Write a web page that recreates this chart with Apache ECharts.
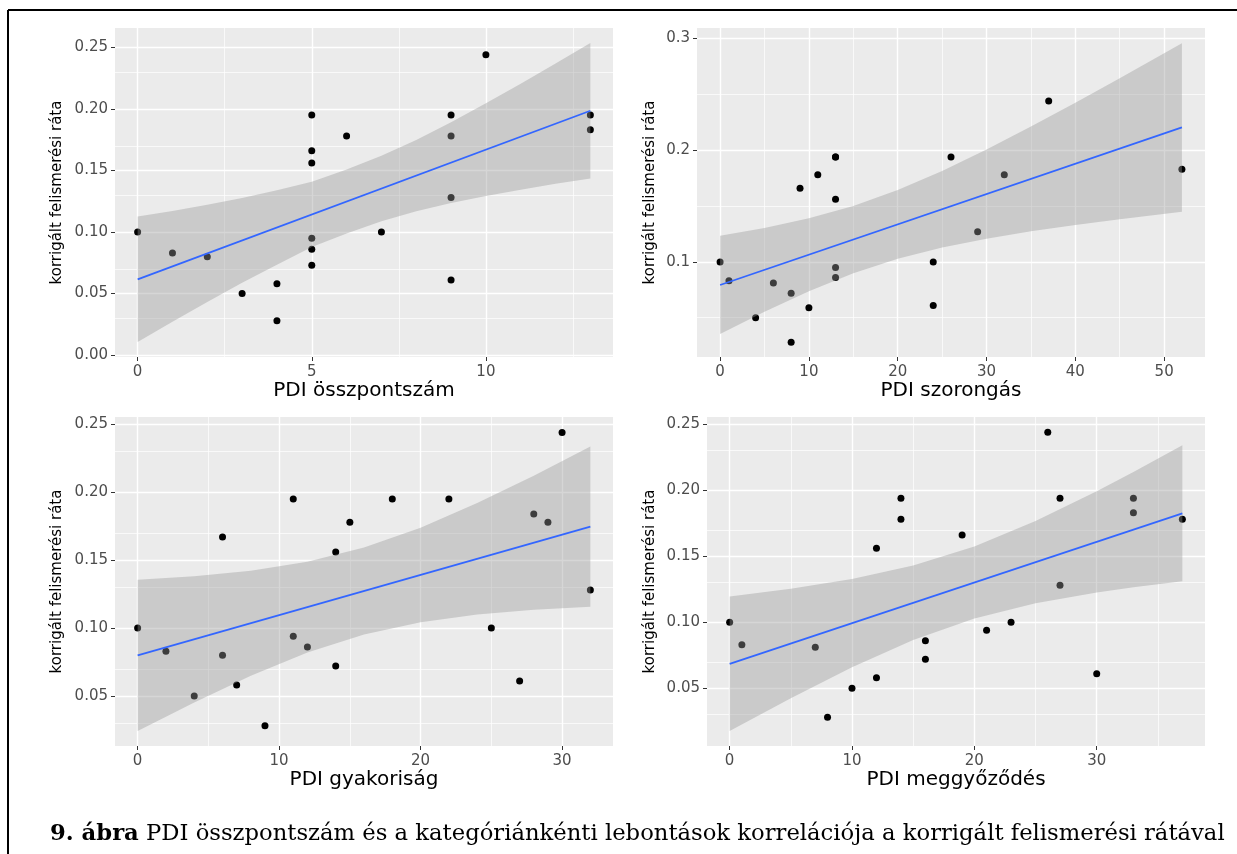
<!DOCTYPE html>
<html>
<head>
<meta charset="utf-8">
<script src="https://cdn.jsdelivr.net/npm/echarts@6/dist/echarts.min.js"></script>
<style>
html, body { margin: 0; padding: 0; background: #fff; }
#main { width: 1237px; height: 854px; }
</style>
</head>
<body>
<div id="main"></div>
<script>
// axis titles
var xTitles = ['PDI összpontszám', 'PDI szorongás', 'PDI gyakoriság', 'PDI meggyőződés'];
var yTitle = 'korrigált felismerési ráta';
var caption = 'PDI összpontszám és a kategóriánkénti lebontások korrelációja a korrigált felismerési rátával';

// panel 1: összpontszám
var p1X = [0, 1, 2, 3, 4, 4, 5, 5, 5, 5, 5, 5, 6, 7, 9, 9, 9, 9, 10, 13, 13];
var p1Y = [0.100, 0.083, 0.080, 0.050, 0.058, 0.028, 0.195, 0.166, 0.156, 0.095, 0.086, 0.073, 0.178, 0.100, 0.195, 0.178, 0.128, 0.061, 0.244, 0.195, 0.183];
var p1LineX = [0, 13];
var p1LineY = [0.0616, 0.1985];
var p1BandX = [0, 1, 2, 3, 4, 5, 6, 7, 8, 9, 10, 11, 12, 13];
var p1BandLo = [0.0106, 0.0271, 0.0432, 0.0588, 0.0735, 0.0878, 0.0988, 0.1087, 0.1168, 0.1236, 0.1293, 0.1344, 0.1392, 0.1435];
var p1BandHi = [0.1126, 0.1171, 0.1222, 0.1276, 0.1339, 0.1408, 0.1508, 0.1619, 0.1748, 0.1892, 0.2045, 0.2204, 0.2368, 0.2535];

// panel 2: szorongás
var p2X = [0, 1, 4, 6, 8, 8, 9, 10, 11, 13, 13, 13, 13, 13, 24, 24, 26, 29, 32, 37, 52];
var p2Y = [0.100, 0.083, 0.050, 0.081, 0.072, 0.028, 0.166, 0.059, 0.178, 0.194, 0.194, 0.156, 0.095, 0.086, 0.100, 0.061, 0.194, 0.127, 0.178, 0.244, 0.183];
var p2LineX = [0, 52];
var p2LineY = [0.0793, 0.2204];
var p2BandX = [0, 5, 10, 15, 20, 25, 30, 35, 40, 45, 52];
var p2BandLo = [0.0353, 0.0554, 0.0738, 0.0899, 0.1028, 0.1128, 0.1208, 0.1274, 0.1330, 0.1382, 0.1449];
var p2BandHi = [0.1233, 0.1304, 0.1390, 0.1501, 0.1644, 0.1814, 0.2006, 0.2212, 0.2426, 0.2646, 0.2959];

// panel 3: gyakoriság
var p3X = [0, 2, 4, 6, 6, 7, 9, 11, 11, 12, 14, 14, 15, 18, 22, 25, 27, 28, 29, 30, 32];
var p3Y = [0.100, 0.083, 0.050, 0.167, 0.080, 0.058, 0.028, 0.195, 0.094, 0.086, 0.156, 0.072, 0.178, 0.195, 0.195, 0.100, 0.061, 0.184, 0.178, 0.244, 0.128];
var p3LineX = [0, 32];
var p3LineY = [0.0798, 0.1747];
var p3BandX = [0, 4, 8, 12, 16, 20, 24, 28, 32];
var p3BandLo = [0.0241, 0.0452, 0.0648, 0.0820, 0.0953, 0.1043, 0.1099, 0.1134, 0.1157];
var p3BandHi = [0.1355, 0.1382, 0.1422, 0.1488, 0.1593, 0.1739, 0.1921, 0.2122, 0.2337];

// panel 4: meggyőződés
var p4X = [0, 1, 7, 8, 10, 12, 12, 14, 14, 16, 16, 19, 21, 23, 26, 27, 27, 30, 33, 33, 37];
var p4Y = [0.100, 0.083, 0.081, 0.028, 0.050, 0.156, 0.058, 0.194, 0.178, 0.086, 0.072, 0.166, 0.094, 0.100, 0.244, 0.194, 0.128, 0.061, 0.194, 0.183, 0.178];
var p4LineX = [0, 37];
var p4LineY = [0.0685, 0.1825];
var p4BandX = [0, 5, 10, 15, 20, 25, 30, 33, 37];
var p4BandLo = [0.0175, 0.0424, 0.0658, 0.0865, 0.1028, 0.1143, 0.1225, 0.1265, 0.1310];
var p4BandHi = [0.1195, 0.1254, 0.1328, 0.1429, 0.1574, 0.1767, 0.1993, 0.2139, 0.2340];

// ticks (major = labelled, minor = grid only)
var p1XMajor = [0, 5, 10], p1XMinor = [2.5, 7.5, 12.5];
var p2XMajor = [0, 10, 20, 30, 40, 50], p2XMinor = [5, 15, 25, 35, 45];
var p3XMajor = [0, 10, 20, 30], p3XMinor = [5, 15, 25];
var p4XMajor = [0, 10, 20, 30], p4XMinor = [5, 15, 25, 35];
var p1YMajor = [0, 0.05, 0.1, 0.15, 0.2, 0.25], p1YMinor = [0.025, 0.075, 0.125, 0.175, 0.225];
var p2YMajor = [0.1, 0.2, 0.3], p2YMinor = [0.05, 0.15, 0.25];
var p3YMajor = [0.05, 0.1, 0.15, 0.2, 0.25], p3YMinor = [0.025, 0.075, 0.125, 0.175, 0.225];
var p4YMajor = [0.05, 0.1, 0.15, 0.2, 0.25], p4YMinor = [0.025, 0.075, 0.125, 0.175, 0.225];

var panels = [
    {x: p1X, y: p1Y, lx: p1LineX, ly: p1LineY, bx: p1BandX, lo: p1BandLo, hi: p1BandHi,
     xr: [-0.65, 13.65], yr: [-0.0015, 0.2657], xMaj: p1XMajor, xMin: p1XMinor, yMaj: p1YMajor, yMin: p1YMinor, dec: 2,
     grid: {left: 115, top: 28, width: 498, height: 329}, yGap: 50},
    {x: p2X, y: p2Y, lx: p2LineX, ly: p2LineY, bx: p2BandX, lo: p2BandLo, hi: p2BandHi,
     xr: [-2.6, 54.6], yr: [0.0148, 0.3095], xMaj: p2XMajor, xMin: p2XMinor, yMaj: p2YMajor, yMin: p2YMinor, dec: 1,
     grid: {left: 697, top: 28, width: 508, height: 329}, yGap: 39},
    {x: p3X, y: p3Y, lx: p3LineX, ly: p3LineY, bx: p3BandX, lo: p3BandLo, hi: p3BandHi,
     xr: [-1.6, 33.6], yr: [0.0131, 0.2555], xMaj: p3XMajor, xMin: p3XMinor, yMaj: p3YMajor, yMin: p3YMinor, dec: 2,
     grid: {left: 115, top: 417, width: 498, height: 329}, yGap: 50},
    {x: p4X, y: p4Y, lx: p4LineX, ly: p4LineY, bx: p4BandX, lo: p4BandLo, hi: p4BandHi,
     xr: [-1.85, 38.85], yr: [0.0062, 0.2555], xMaj: p4XMajor, xMin: p4XMinor, yMaj: p4YMajor, yMin: p4YMinor, dec: 2,
     grid: {left: 707, top: 417, width: 498, height: 329}, yGap: 49}
];

var FONT = 'DejaVu Sans';
var grids = [], xAxes = [], yAxes = [], series = [];

function pairs(a, b) {
    return a.map(function (v, i) { return [v, b[i]]; });
}

panels.forEach(function (p, i) {
    grids.push({
        left: p.grid.left, top: p.grid.top, width: p.grid.width, height: p.grid.height,
        show: true, backgroundColor: '#EBEBEB', borderWidth: 0
    });
    xAxes.push({
        gridIndex: i, type: 'value', min: p.xr[0], max: p.xr[1],
        name: xTitles[i], nameLocation: 'middle', nameGap: 23,
        nameTextStyle: {fontFamily: FONT, fontSize: 20, color: '#000'},
        axisLine: {show: false, onZero: false},
        axisTick: {show: true, length: 4, lineStyle: {color: '#333'}, customValues: p.xMaj},
        axisLabel: {customValues: p.xMaj, margin: 8, color: '#4D4D4D', fontFamily: FONT, fontSize: 15,
            formatter: function (v) { return String(Math.round(v)); }},
        splitLine: {show: false}
    });
    yAxes.push({
        gridIndex: i, type: 'value', min: p.yr[0], max: p.yr[1],
        name: yTitle, nameLocation: 'middle', nameGap: p.yGap,
        nameTextStyle: {fontFamily: FONT, fontSize: 15, color: '#000'},
        axisLine: {show: false, onZero: false},
        axisTick: {show: true, length: 4, lineStyle: {color: '#333'}, customValues: p.yMaj},
        axisLabel: {customValues: p.yMaj, margin: 7, color: '#4D4D4D', fontFamily: FONT, fontSize: 15,
            formatter: (function (d) { return function (v) { return v.toFixed(d); }; })(p.dec)},
        splitLine: {show: false}
    });

    // white grid lines, kept under the points
    var gl = [];
    p.xMin.forEach(function (v) { gl.push({xAxis: v, lineStyle: {width: 0.7}}); });
    p.yMin.forEach(function (v) { gl.push({yAxis: v, lineStyle: {width: 0.7}}); });
    p.xMaj.forEach(function (v) { gl.push({xAxis: v, lineStyle: {width: 1.4}}); });
    p.yMaj.forEach(function (v) { gl.push({yAxis: v, lineStyle: {width: 1.4}}); });
    series.push({
        type: 'scatter', xAxisIndex: i, yAxisIndex: i, data: [], z: 1, silent: true,
        markLine: {
            silent: true, symbol: ['none', 'none'], animation: false, z: 1,
            label: {show: false}, emphasis: {disabled: true},
            lineStyle: {color: '#FFFFFF', type: 'solid'},
            data: gl
        }
    });

    // points
    series.push({
        type: 'scatter', xAxisIndex: i, yAxisIndex: i, z: 2,
        symbolSize: 7, itemStyle: {color: '#000', opacity: 1},
        data: pairs(p.x, p.y)
    });

    // confidence ribbon (drawn over the points, like geom_smooth)
    series.push({
        type: 'custom', xAxisIndex: i, yAxisIndex: i, z: 3, silent: true,
        data: [[p.bx[0], p.lo[0]]],
        renderItem: (function (pp) {
            return function (params, api) {
                var pts = [];
                for (var k = 0; k < pp.bx.length; k++) pts.push(api.coord([pp.bx[k], pp.hi[k]]));
                for (var k2 = pp.bx.length - 1; k2 >= 0; k2--) pts.push(api.coord([pp.bx[k2], pp.lo[k2]]));
                return {type: 'polygon', shape: {points: pts}, style: {fill: 'rgba(153,153,153,0.4)'}};
            };
        })(p)
    });

    // regression line
    series.push({
        type: 'line', xAxisIndex: i, yAxisIndex: i, z: 4, silent: true,
        showSymbol: false, lineStyle: {color: '#3366FF', width: 1.8},
        data: pairs(p.lx, p.ly)
    });
});

var chart = echarts.init(document.getElementById('main'));
chart.setOption({
    animation: false,
    backgroundColor: '#fff',
    grid: grids,
    xAxis: xAxes,
    yAxis: yAxes,
    series: series,
    graphic: [
        {type: 'line', shape: {x1: 8, y1: 10, x2: 1237, y2: 10}, style: {stroke: '#000', lineWidth: 2}},
        {type: 'line', shape: {x1: 8, y1: 10, x2: 8, y2: 854}, style: {stroke: '#000', lineWidth: 2}},
        {type: 'text', x: 50, y: 834,
         style: {
             text: '{b|9. ábra} ' + caption,
             fontFamily: 'DejaVu Serif', fontSize: 22.7, fill: '#000', verticalAlign: 'middle',
             rich: {b: {fontFamily: 'DejaVu Serif', fontSize: 22.7, fontWeight: 'bold', fill: '#000'}}
         }}
    ]
});
</script>
</body>
</html>
